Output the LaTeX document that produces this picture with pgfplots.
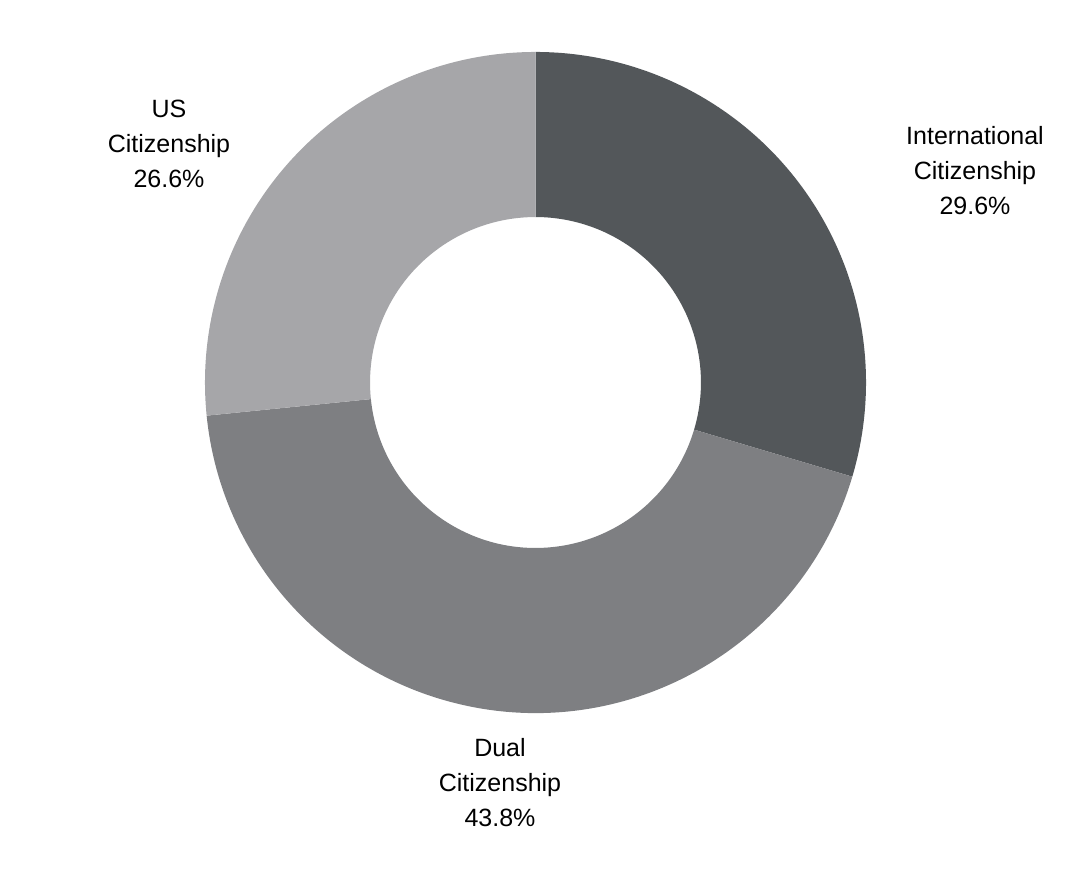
\documentclass[border=0pt]{standalone}
\usepackage{fontspec}
\setmainfont{Liberation Sans}
\usepackage{pgfplots}
\usepackage{pgfplotstable}
\pgfplotsset{compat=1.18}
\definecolor{cIntl}{HTML}{53575A}
\definecolor{cDual}{HTML}{7E7F82}
\definecolor{cUS}{HTML}{A6A6A9}
\pgfplotstableread{
label value
International 29.6
Dual 43.8
US 26.6
}\datatable
\pgfplotstablegetelem{0}{value}\of\datatable \let\vA\pgfplotsretval
\pgfplotstablegetelem{1}{value}\of\datatable \let\vB\pgfplotsretval
\pgfplotstablegetelem{2}{value}\of\datatable \let\vC\pgfplotsretval
\pgfmathsetmacro{\aA}{90}
\pgfmathsetmacro{\aB}{\aA-\vA*3.6}
\pgfmathsetmacro{\aC}{\aB-\vB*3.6}
\pgfmathsetmacro{\aD}{\aC-\vC*3.6}
\def\cx{535.5}
\def\cy{493.5}
\def\Rr{247.9pt}
\def\rr{124.1pt}
\begin{document}%
\begin{tikzpicture}
\begin{axis}[
  scale only axis, width=804pt, height=657pt,
  xmin=0, xmax=1072, ymin=0, ymax=876,
  hide axis, clip=false,
]
\path (axis cs:0,0) rectangle (axis cs:1072,876);
\fill[cIntl] ([shift={(\aA:\Rr)}]axis cs:\cx,\cy) arc[start angle=\aA, end angle=\aB, radius=\Rr]
  -- ([shift={(\aB:\rr)}]axis cs:\cx,\cy) arc[start angle=\aB, end angle=\aA, radius=\rr] -- cycle;
\fill[cDual] ([shift={(\aB:\Rr)}]axis cs:\cx,\cy) arc[start angle=\aB, end angle=\aC, radius=\Rr]
  -- ([shift={(\aC:\rr)}]axis cs:\cx,\cy) arc[start angle=\aC, end angle=\aB, radius=\rr] -- cycle;
\fill[cUS] ([shift={(\aC:\Rr)}]axis cs:\cx,\cy) arc[start angle=\aC, end angle=\aD, radius=\Rr]
  -- ([shift={(\aD:\rr)}]axis cs:\cx,\cy) arc[start angle=\aD, end angle=\aC, radius=\rr] -- cycle;
\node[align=center, font=\fontsize{18.75}{26.25}\selectfont, text=black] at (axis cs:975,705) {International\\Citizenship\\29.6\%};
\node[align=center, font=\fontsize{18.75}{26.25}\selectfont, text=black] at (axis cs:169,732) {US\\Citizenship\\26.6\%};
\node[align=center, font=\fontsize{18.75}{26.25}\selectfont, text=black] at (axis cs:500,93) {Dual\\Citizenship\\43.8\%};
\end{axis}
\end{tikzpicture}%
\end{document}
